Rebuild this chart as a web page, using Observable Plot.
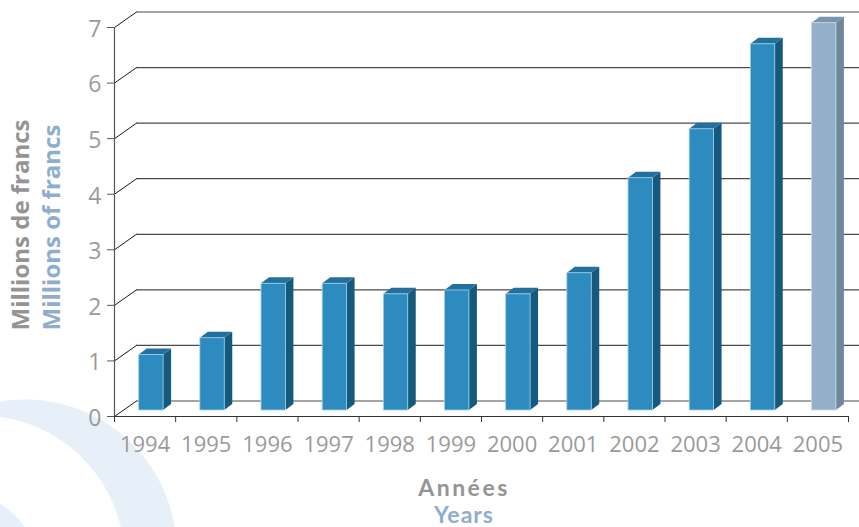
<!DOCTYPE html>
<html>
<head>
<meta charset="utf-8">
<script src="https://cdn.jsdelivr.net/npm/d3@7"></script>
<script src="https://cdn.jsdelivr.net/npm/@observablehq/plot@0.6"></script>
<style>
  html, body { margin: 0; padding: 0; background: #fff; }
  #chart {
    width: 859px; height: 527px; position: relative; overflow: hidden;
    background:
      radial-gradient(circle 78px at -40px 570px, #e7f0f9 77px, rgba(231,240,249,0) 78px),
      radial-gradient(circle 145px at -20px 560px, #ffffff 144px, rgba(255,255,255,0) 145px),
      radial-gradient(circle 152px at 25px 551px, #e7f0f9 151px, rgba(231,240,249,0) 152px),
      #ffffff;
  }
</style>
</head>
<body>
<div id="chart"></div>
<script>
// ---- data ----
const years = ["1994","1995","1996","1997","1998","1999","2000","2001","2002","2003","2004","2005"];
const values = [1.0, 1.3, 2.28, 2.28, 2.09, 2.16, 2.09, 2.47, 4.18, 5.06, 6.59, 6.97];
const status = ["actual","actual","actual","actual","actual","actual","actual","actual","actual","actual","actual","projected"];
const yTicks = [0, 1, 2, 3, 4, 5, 6, 7];
const yTitleFr = "Millions de francs";
const yTitleEn = "Millions of francs";
const xTitleFr = "Années";
const xTitleEn = "Years";

// ---- styles / geometry ----
const PALETTE = {
  actual:    {front: "#2e8bbf", side: "#155a7d", top: "#23709e", edge: "#9fd2ec"},
  projected: {front: "#94afca", side: "#6f879f", top: "#7c95af", edge: "#c9dbec"}
};
const GRAY_TITLE = "#949494", BLUE_TITLE = "#8fadcc";
const W = 859, H = 527, ML = 114, MR = 11, MT = 27, MB = 111;
const bandPx = (W - ML - MR) / years.length;
const unitPx = (H - MT - MB) / 7;
const BAR_OFF = 6.3, BAR_W = 24.4, BAR_DX = 8, BAR_DY = 6, LIFT = 6;
const WALL_DX = 22, WALL_DY = 15.5;
const ax = BAR_DX / bandPx, ay = BAR_DY / unitPx;

const bars = years.map((yr, i) => ({
  id: i, year: yr, v: values[i], status: status[i],
  x1: i + 0.5 + (BAR_OFF - BAR_W / 2) / bandPx,
  x2: i + 0.5 + (BAR_OFF + BAR_W / 2) / bandPx
}));
const sides = bars.flatMap(b => [
  {id: b.id, status: b.status, x: b.x2, y1: 0, y2: b.v},
  {id: b.id, status: b.status, x: b.x2 + ax, y1: ay, y2: b.v + ay}
]);
const tops = bars.flatMap(b => [
  {id: b.id, status: b.status, y: b.v, x1: b.x1, x2: b.x2},
  {id: b.id, status: b.status, y: b.v + ay, x1: b.x1 + ax, x2: b.x2 + ax}
]);

const barMarks = Object.keys(PALETTE).flatMap(s => {
  const c = PALETTE[s];
  return [
    Plot.areaY(sides.filter(d => d.status === s), {x: "x", y1: "y1", y2: "y2", z: "id", fill: c.side, dy: -LIFT}),
    Plot.areaX(tops.filter(d => d.status === s), {y: "y", x1: "x1", x2: "x2", z: "id", fill: c.top, dy: -LIFT}),
    Plot.rect(bars.filter(d => d.status === s), {x1: "x1", x2: "x2", y1: 0, y2: "v", fill: c.front, stroke: c.edge, strokeWidth: 0.8, dy: -LIFT})
  ];
});

const font = "'Open Sans', 'DejaVu Sans', sans-serif";
const titleFont = "Lato, 'Open Sans', sans-serif";

const chart = Plot.plot({
  width: W, height: H,
  marginLeft: ML, marginRight: MR, marginTop: MT, marginBottom: MB,
  style: {background: "transparent", fontFamily: font, overflow: "visible"},
  x: {type: "linear", domain: [0, years.length], axis: null},
  y: {domain: [0, 7], axis: null},
  marks: [
    // back wall gridlines
    Plot.ruleY(yTicks, {dx: WALL_DX, dy: -WALL_DY, stroke: "#4a4a4a", strokeWidth: 1.2}),
    // diagonal connectors
    Plot.link(yTicks, {x1: 0, x2: WALL_DX / bandPx, y1: d => d, y2: d => d + WALL_DY / unitPx, stroke: "#1a1a1a", strokeWidth: 1}),
    // bars
    ...barMarks,
    // axes lines
    Plot.ruleX([0], {stroke: "#555", strokeWidth: 1.2}),
    Plot.ruleY([0], {stroke: "#333", strokeWidth: 1.2}),
    // y ticks and labels
    Plot.axisY(yTicks, {tickSize: 7, tickFormat: () => "", stroke: "#555", label: null}),
    Plot.axisY(yTicks, {tickSize: 0, tickPadding: 13, dy: 2, tickFormat: d3.format("d"), fill: "#9a9a9a", fontSize: 23, fontFamily: font, label: null}),
    // x ticks and labels
    Plot.axisX(d3.range(years.length + 1), {tickSize: 6, tickFormat: () => "", stroke: "#333", label: null}),
    Plot.axisX(years.map((_, i) => i + 0.5), {tickSize: 0, tickPadding: 20, tickFormat: d => years[Math.floor(d)], fill: "#9a9a9a", fontSize: 22, fontFamily: font, label: null}),
    // titles
    Plot.text([yTitleFr], {text: d => d, frameAnchor: "bottom-left", dx: 28 - ML, dy: -86, rotate: -90, textAnchor: "start", fontSize: 24, fontWeight: "bold", fill: GRAY_TITLE, fontFamily: font}),
    Plot.text([yTitleEn], {text: d => d, frameAnchor: "bottom-left", dx: 59 - ML, dy: -86, rotate: -90, textAnchor: "start", fontSize: 24, fontWeight: "bold", fill: BLUE_TITLE, fontFamily: font}),
    Plot.text([xTitleFr], {text: d => d, frameAnchor: "bottom", dx: -17.5, dy: 79, fontSize: 23, fontWeight: "bold", fill: GRAY_TITLE, fontFamily: titleFont}),
    Plot.text([xTitleEn], {text: d => d, frameAnchor: "bottom", dx: -17.5, dy: 106.8, fontSize: 23, fontWeight: "bold", fill: BLUE_TITLE, fontFamily: titleFont})
  ]
});

document.getElementById("chart").appendChild(chart);
d3.select(chart).selectAll("text").each(function() {
  if (this.textContent === xTitleFr) d3.select(this).style("letter-spacing", "2.5px");
  if (this.textContent === xTitleEn) d3.select(this).style("letter-spacing", "1px");
});
</script>
</body>
</html>
